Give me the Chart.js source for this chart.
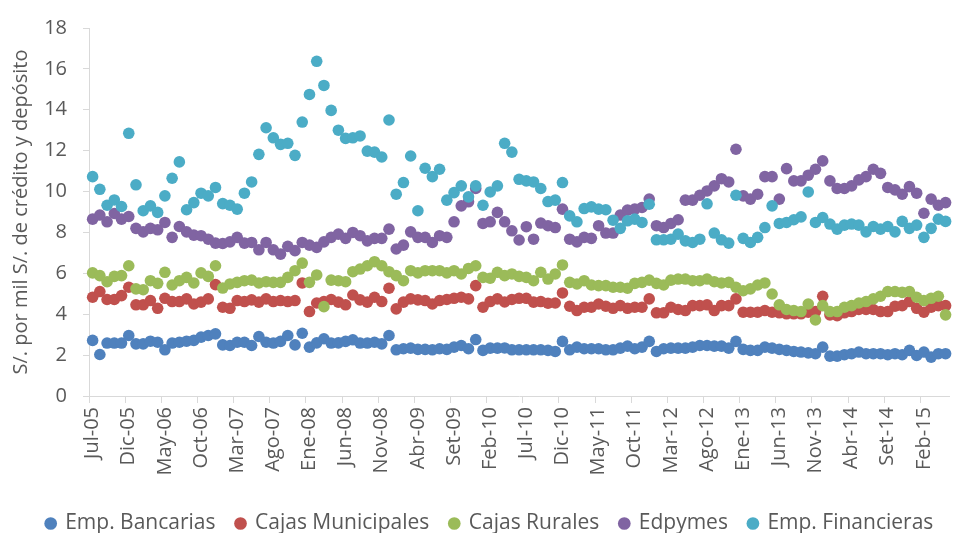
<!DOCTYPE html>
<html>
<head>
<meta charset="utf-8">
<script src="https://cdn.jsdelivr.net/npm/chart.js@4.4.1/dist/chart.umd.min.js"></script>
<style>
html, body { margin: 0; padding: 0; background: #fff; }
</style>
</head>
<body>
<canvas id="myChart" width="955" height="533"></canvas>
<script>
// monthly categories, Jul-05 .. May-15
var months = [
  'Jul-05','Ago-05','Set-05','Oct-05','Nov-05','Dic-05',
  'Ene-06','Feb-06','Mar-06','Abr-06','May-06','Jun-06','Jul-06','Ago-06','Set-06','Oct-06','Nov-06','Dic-06',
  'Ene-07','Feb-07','Mar-07','Abr-07','May-07','Jun-07','Jul-07','Ago-07','Set-07','Oct-07','Nov-07','Dic-07',
  'Ene-08','Feb-08','Mar-08','Abr-08','May-08','Jun-08','Jul-08','Ago-08','Set-08','Oct-08','Nov-08','Dic-08',
  'Ene-09','Feb-09','Mar-09','Abr-09','May-09','Jun-09','Jul-09','Ago-09','Set-09','Oct-09','Nov-09','Dic-09',
  'Ene-10','Feb-10','Mar-10','Abr-10','May-10','Jun-10','Jul-10','Ago-10','Set-10','Oct-10','Nov-10','Dic-10',
  'Ene-11','Feb-11','Mar-11','Abr-11','May-11','Jun-11','Jul-11','Ago-11','Set-11','Oct-11','Nov-11','Dic-11',
  'Ene-12','Feb-12','Mar-12','Abr-12','May-12','Jun-12','Jul-12','Ago-12','Set-12','Oct-12','Nov-12','Dic-12',
  'Ene-13','Feb-13','Mar-13','Abr-13','May-13','Jun-13','Jul-13','Ago-13','Set-13','Oct-13','Nov-13','Dic-13',
  'Ene-14','Feb-14','Mar-14','Abr-14','May-14','Jun-14','Jul-14','Ago-14','Set-14','Oct-14','Nov-14','Dic-14',
  'Ene-15','Feb-15','Mar-15','Abr-15','May-15'
];

var bancarias = [
  2.72,2.03,2.59,2.59,2.59,2.96,2.55,2.55,2.68,2.63,2.26,2.59,2.63,2.68,2.72,2.88,2.96,3.04,2.50,2.47,
  2.63,2.63,2.47,2.91,2.63,2.59,2.67,2.96,2.50,3.07,2.39,2.60,2.80,2.59,2.60,2.67,2.75,2.59,2.59,2.63,
  2.55,2.96,2.26,2.31,2.34,2.28,2.28,2.26,2.31,2.28,2.39,2.47,2.31,2.76,2.23,2.34,2.34,2.35,2.26,2.26,
  2.26,2.26,2.26,2.23,2.18,2.67,2.26,2.39,2.31,2.31,2.31,2.26,2.26,2.34,2.44,2.31,2.39,2.67,2.18,2.31,
  2.34,2.34,2.34,2.39,2.47,2.47,2.44,2.44,2.34,2.67,2.28,2.23,2.23,2.39,2.34,2.28,2.23,2.18,2.15,2.11,
  2.07,2.39,1.95,1.95,2.02,2.07,2.15,2.07,2.07,2.07,2.02,2.07,2.02,2.23,1.98,2.15,1.90,2.07,2.07
];
var municipales = [
  4.83,5.11,4.72,4.72,4.91,5.32,4.46,4.46,4.67,4.29,4.78,4.62,4.62,4.75,4.50,4.59,4.75,5.45,4.34,4.29,
  4.67,4.62,4.70,4.59,4.75,4.62,4.67,4.62,4.67,5.53,4.13,4.55,4.62,4.72,4.59,4.46,4.94,4.70,4.59,4.83,
  4.62,5.27,4.26,4.59,4.75,4.70,4.67,4.50,4.67,4.72,4.78,4.83,4.75,5.40,4.34,4.62,4.75,4.60,4.72,4.78,
  4.78,4.59,4.62,4.54,4.55,5.04,4.39,4.18,4.34,4.34,4.50,4.39,4.29,4.42,4.29,4.34,4.34,4.75,4.07,4.07,
  4.34,4.23,4.18,4.42,4.42,4.46,4.18,4.42,4.42,4.75,4.10,4.10,4.10,4.18,4.10,4.07,4.02,4.02,4.02,4.10,
  4.13,4.88,3.97,3.93,4.07,4.13,4.23,4.23,4.23,4.13,4.13,4.39,4.42,4.62,4.29,4.10,4.34,4.42,4.42
];
var rurales = [
  6.02,5.89,5.59,5.85,5.89,6.37,5.24,5.20,5.64,5.51,6.05,5.43,5.64,5.80,5.53,6.02,5.85,6.37,5.28,5.48,
  5.56,5.64,5.67,5.53,5.59,5.56,5.56,5.80,6.13,6.50,5.56,5.92,4.37,5.67,5.64,5.59,6.08,6.21,6.37,6.57,
  6.37,6.08,5.89,5.64,6.13,6.02,6.13,6.13,6.13,6.02,6.13,5.97,6.24,6.37,5.80,5.76,6.05,5.89,5.97,5.85,
  5.80,5.64,6.05,5.72,5.97,6.41,5.56,5.48,5.64,5.43,5.40,5.40,5.32,5.32,5.27,5.51,5.56,5.67,5.51,5.43,
  5.67,5.72,5.72,5.64,5.64,5.72,5.59,5.53,5.56,5.32,5.15,5.24,5.43,5.53,4.99,4.46,4.23,4.18,4.13,4.50,
  3.72,4.42,4.13,4.13,4.34,4.42,4.55,4.62,4.75,4.88,5.11,5.11,5.07,5.11,4.83,4.67,4.78,4.88,3.97
];
var edpymes = [
  8.65,8.85,8.52,8.93,8.65,8.78,8.20,8.03,8.20,8.13,8.49,7.76,8.29,8.03,7.87,7.84,7.67,7.48,7.46,7.54,
  7.76,7.48,7.51,7.15,7.51,7.15,6.94,7.32,7.11,7.51,7.38,7.27,7.54,7.76,7.92,7.71,8.00,7.84,7.59,7.71,
  7.71,8.16,7.19,7.38,8.03,7.76,7.76,7.51,7.84,7.76,8.52,9.30,9.50,10.15,8.44,8.52,8.98,8.52,8.08,7.63,
  8.28,7.67,8.46,8.33,8.24,9.14,7.67,7.54,7.76,7.71,8.33,7.97,7.97,8.85,9.09,9.14,9.22,9.63,8.33,8.24,
  8.44,8.62,9.58,9.58,9.82,10.03,10.28,10.63,10.47,12.07,9.79,9.63,9.87,10.73,10.73,9.63,11.12,10.52,10.52,10.80,
  11.09,11.50,10.52,10.15,10.15,10.28,10.57,10.73,11.09,10.89,10.20,10.08,9.87,10.24,9.92,8.94,9.63,9.33,9.46
];
var financieras = [
  10.73,10.11,9.33,9.59,9.27,12.85,10.33,9.06,9.30,8.98,9.79,10.65,11.45,9.11,9.46,9.92,9.79,10.20,9.41,9.33,
  9.14,9.92,10.47,11.82,13.12,12.63,12.31,12.36,11.77,13.40,14.75,16.37,15.19,13.97,13.00,12.60,12.63,12.72,11.98,11.93,
  11.69,13.50,9.87,10.44,11.74,9.06,11.14,10.73,11.09,9.58,9.95,10.28,9.74,10.28,9.33,9.98,10.28,12.36,11.93,10.60,
  10.52,10.47,10.15,9.51,9.58,10.44,8.81,8.52,9.17,9.25,9.14,9.11,8.60,8.20,8.57,8.65,8.49,9.38,7.64,7.64,
  7.67,7.92,7.59,7.51,7.67,9.40,7.97,7.64,7.48,9.82,7.71,7.51,7.76,8.24,9.30,8.44,8.49,8.62,8.76,9.98,
  8.49,8.73,8.41,8.16,8.36,8.41,8.36,8.03,8.29,8.16,8.29,8.03,8.54,8.20,8.36,7.76,8.20,8.65,8.54
];

var seriesNames = ['Emp. Bancarias', 'Cajas Municipales', 'Cajas Rurales', 'Edpymes', 'Emp. Financieras'];
var seriesData = [bancarias, municipales, rurales, edpymes, financieras];
var seriesColors = ['#4F81BD', '#C0504D', '#9BBB59', '#8064A2', '#4BACC6'];

var textColor = '#595959';
var lineColor = '#D9D9D9';
Chart.defaults.font.family = "'Open Sans', sans-serif";
Chart.defaults.color = textColor;

var datasets = seriesNames.map(function (name, i) {
  return {
    label: name,
    data: seriesData[i],
    showLine: false,
    backgroundColor: seriesColors[i],
    borderColor: seriesColors[i],
    pointBackgroundColor: seriesColors[i],
    pointBorderWidth: 0,
    pointRadius: 5.8,
    pointHoverRadius: 5.8,
    order: seriesNames.length - i   // later series drawn on top, like Excel
  };
});

// nudge the legend a bit lower / right, without touching the plot area
var legendNudge = {
  id: 'legendNudge',
  afterLayout: function (chart) {
    var lg = chart.legend;
    lg.top += 11; lg.bottom += 11;
    lg.left += 10; lg.right += 10;
  }
};

var ctx = document.getElementById('myChart').getContext('2d');
var myChart = new Chart(ctx, {
  type: 'line',
  data: {
    labels: months,
    datasets: datasets
  },
  plugins: [legendNudge],
  options: {
    responsive: false,
    animation: false,
    layout: { padding: { top: 25, left: 0, right: -5, bottom: 0 } },
    plugins: {
      tooltip: { enabled: false },
      legend: {
        position: 'bottom',
        labels: {
          usePointStyle: true,
          pointStyle: 'circle',
          boxWidth: 8,
          boxHeight: 9,
          padding: 21,
          color: textColor,
          font: { size: 21 },
          sort: function (a, b) { return a.datasetIndex - b.datasetIndex; }
        }
      }
    },
    scales: {
      x: {
        type: 'category',
        offset: true,
        border: { display: true, color: lineColor, width: 1 },
        grid: {
          offset: true,
          drawOnChartArea: false,
          drawTicks: true,
          tickLength: 7,
          color: function (c) { return c.index % 5 === 0 ? lineColor : 'rgba(0,0,0,0)'; }
        },
        ticks: {
          autoSkip: false,
          minRotation: 90,
          maxRotation: 90,
          padding: 4,
          color: textColor,
          font: { size: 20 },
          callback: function (val, i) { return i % 5 === 0 ? this.getLabelForValue(val) : ''; }
        },
        afterFit: function (s) { s.height = 85; s.paddingLeft = 0; s.paddingRight = 0; }
      },
      y: {
        min: 0,
        max: 18,
        border: { display: true, color: lineColor, width: 1 },
        grid: { drawOnChartArea: false, drawTicks: true, tickLength: 6, color: lineColor },
        ticks: { stepSize: 2, padding: 16, color: textColor, font: { size: 20 } },
        title: {
          display: true,
          text: 'S/. por mil S/. de crédito y depósito',
          color: textColor,
          font: { size: 20 },
          padding: { top: 9, bottom: 0 }
        },
        afterFit: function (s) { s.width = 89; }
      }
    }
  }
});
</script>
</body>
</html>
